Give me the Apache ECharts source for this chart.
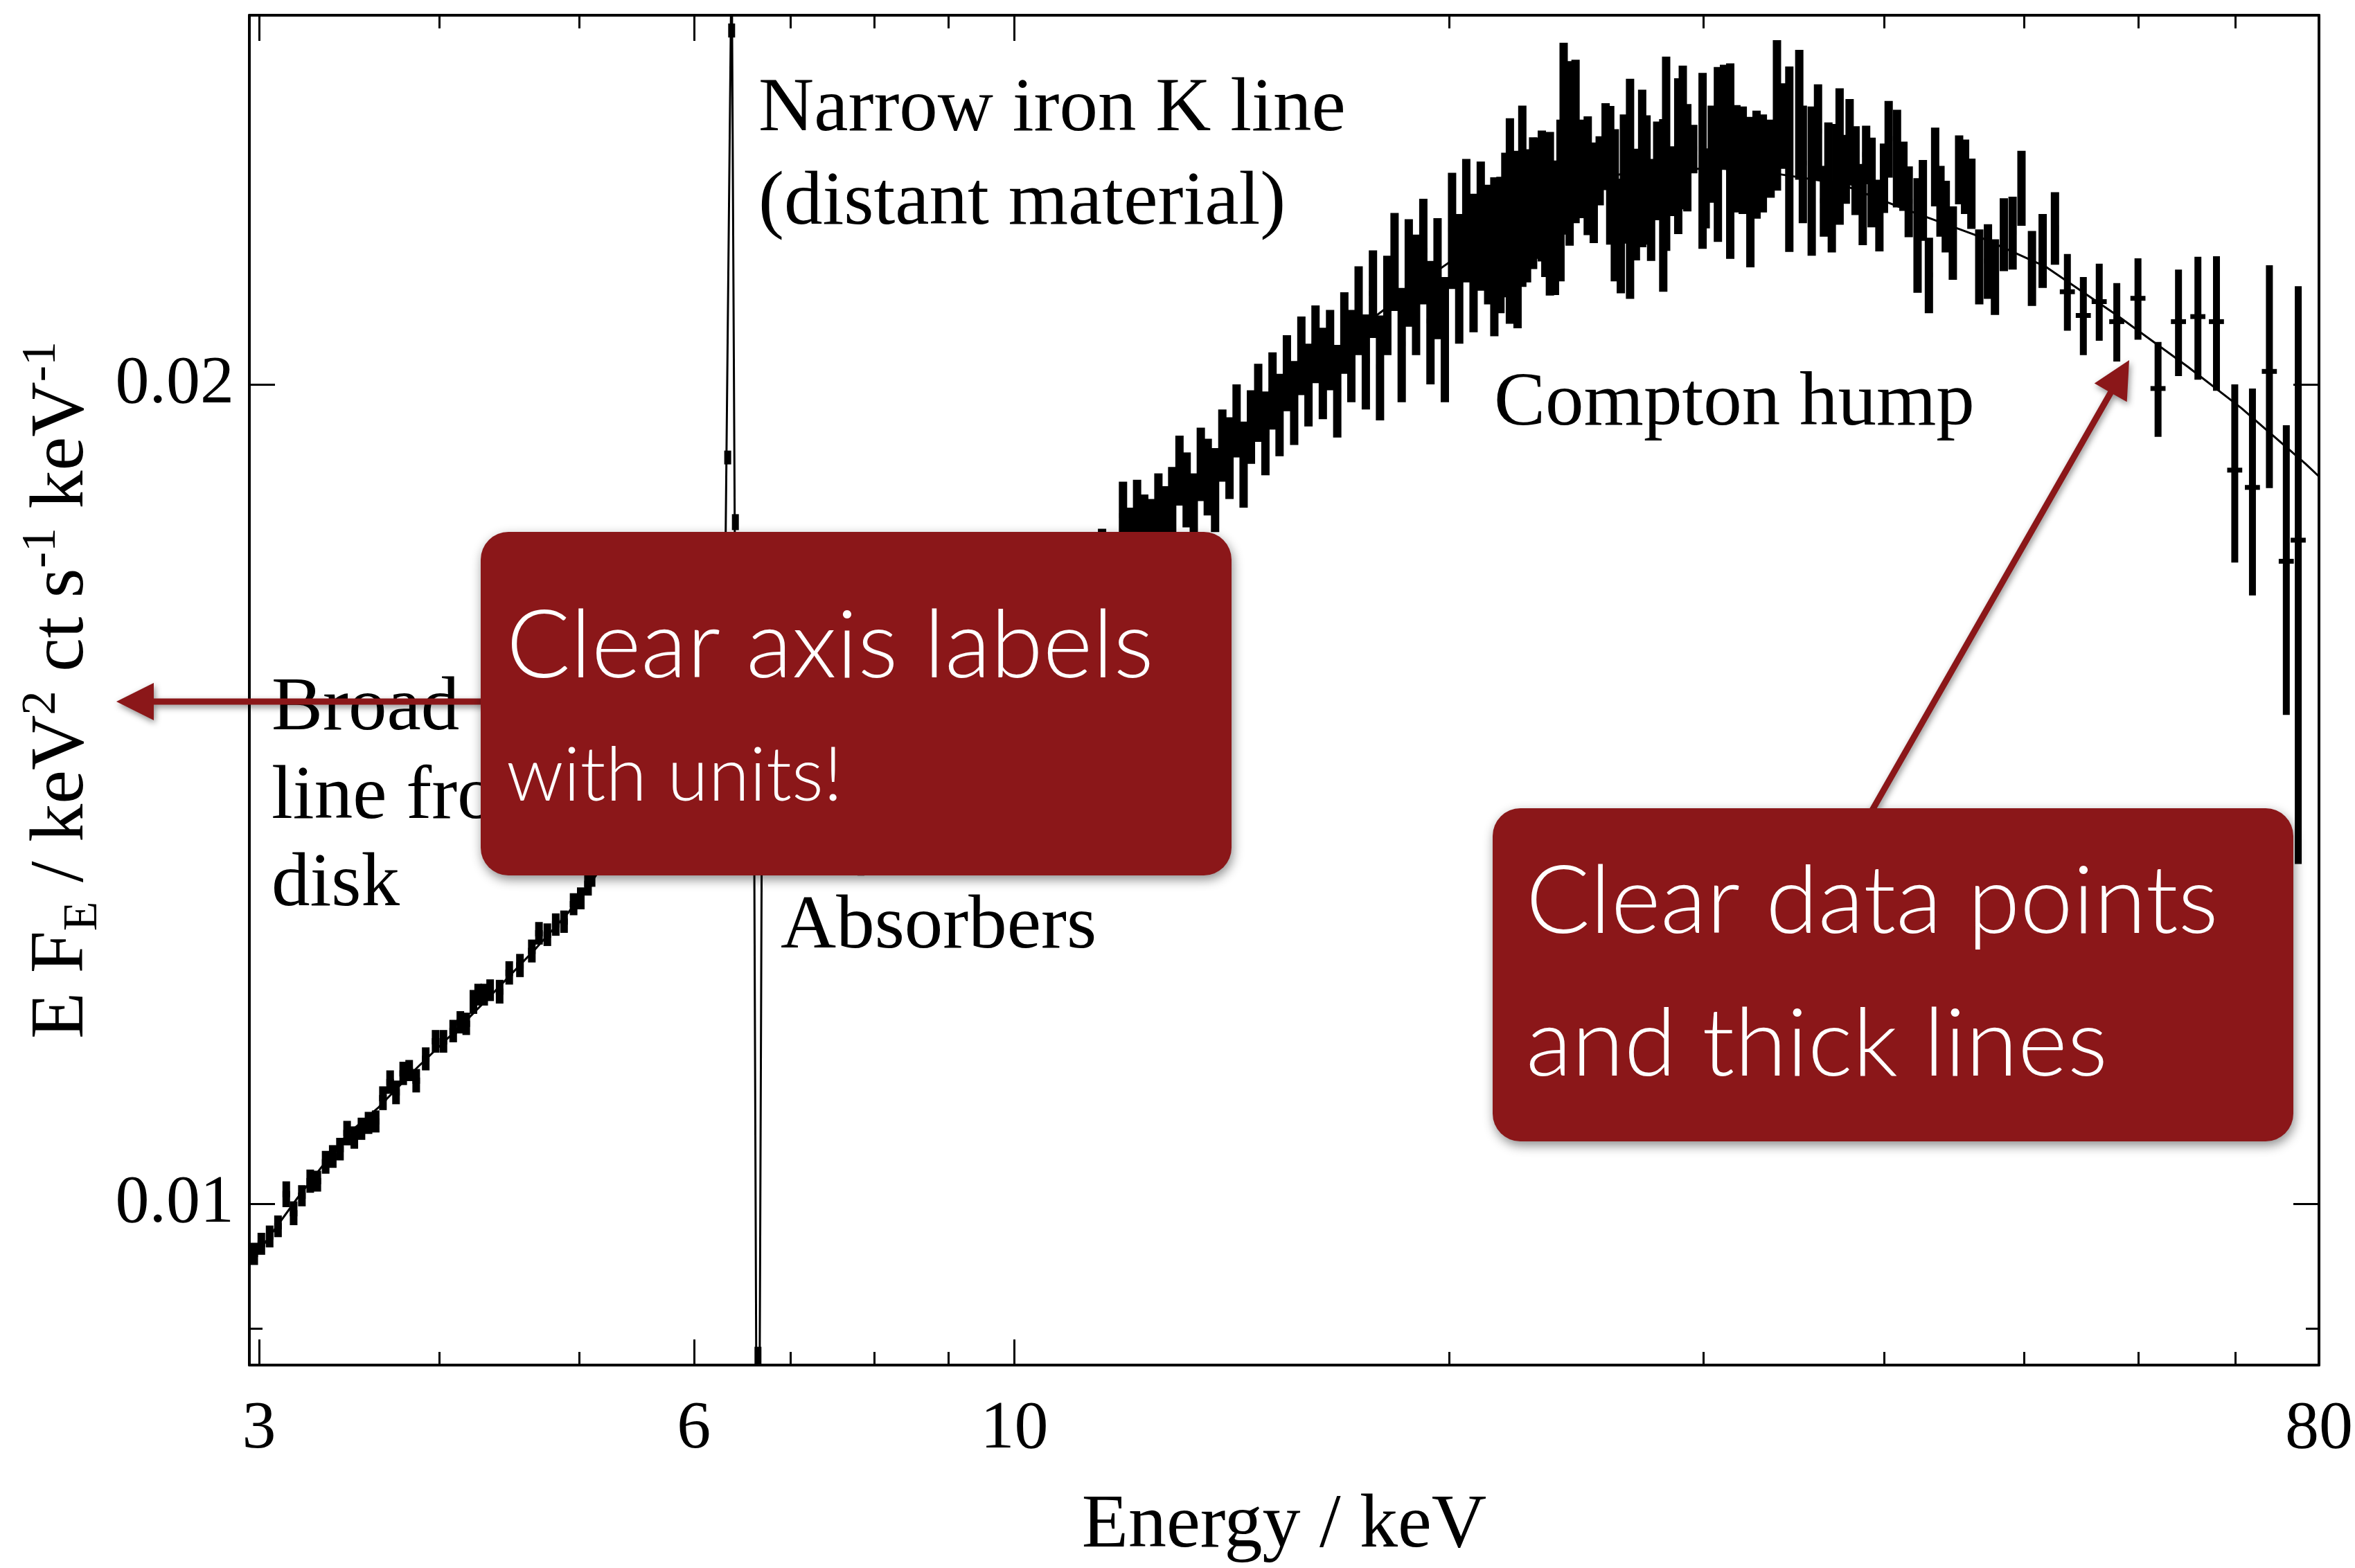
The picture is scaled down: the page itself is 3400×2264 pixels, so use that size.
<!DOCTYPE html>
<html>
<head>
<meta charset="utf-8">
<script src="https://cdn.jsdelivr.net/npm/echarts@6/dist/echarts.min.js"></script>
<style>
  html, body { margin: 0; padding: 0; background: #ffffff; }
  #chart { width: 3400px; height: 2264px; }
</style>
</head>
<body>
<div id="chart"></div>
<script>
// ---------------- axis ticks and labels ----------------
const xMajorTicks = [3, 6, 10];
const xMinorTicks = [4, 5, 7, 8, 9, 20, 30, 40, 50, 60, 70];
const xTickLabels = [3, 6, 10, 80];
const yMajorTicks = [0.01, 0.02];
const yMinorTicks = [0.009];
const yTickLabels = [0.01, 0.02];

// ---------------- spectrum: 3-5.1 keV ----------------
const energyLow = [2.977, 3.011, 3.051, 3.092, 3.133, 3.170, 3.212, 3.255, 3.292, 3.336,
  3.374, 3.413, 3.452, 3.492, 3.532, 3.572, 3.613, 3.655, 3.697, 3.732,
  3.775, 3.811, 3.854, 3.913, 3.975, 4.025, 4.088, 4.135, 4.174, 4.222,
  4.254, 4.295, 4.336, 4.402, 4.470, 4.547, 4.634, 4.687, 4.750, 4.814,
  4.878, 4.953, 5.010, 5.068, 5.097];
const fluxLow = [0.009585, 0.009667, 0.009727, 0.009811, 0.010081, 0.009920, 0.010068, 0.010193, 0.010193, 0.010357,
  0.010408, 0.010473, 0.010616, 0.010576, 0.010655, 0.010708, 0.010721, 0.010934, 0.011084, 0.010988,
  0.011166, 0.011193, 0.011097, 0.011304, 0.011473, 0.011473, 0.011573, 0.011659, 0.011644, 0.011862,
  0.011935, 0.011935, 0.011980, 0.011965, 0.012157, 0.012233, 0.012384, 0.012571, 0.012556, 0.012664,
  0.012695, 0.012884, 0.012948, 0.013108, 0.013205];
const errLow = [0.00009, 0.00009, 0.00009, 0.00009, 0.00011, 0.00010, 0.00009, 0.00010, 0.00009, 0.00010,
  0.00010, 0.00010, 0.00011, 0.00010, 0.00010, 0.00010, 0.00010, 0.00011, 0.00011, 0.00011,
  0.00011, 0.00010, 0.00011, 0.00011, 0.00011, 0.00011, 0.00011, 0.00011, 0.00011, 0.00012,
  0.00011, 0.00011, 0.00011, 0.00012, 0.00012, 0.00012, 0.00012, 0.00012, 0.00012, 0.00012,
  0.00012, 0.00012, 0.00012, 0.00013, 0.00013];

// ---------------- spectrum: iron K band ----------------
const energyIron = [6.332, 6.372, 6.410, 6.645, 7.830];
const fluxIron = [0.01880, 0.02698, 0.01780, 0.00870, 0.01370];
const errIron = [0.00011, 0.00016, 0.00012, 0.00016, 0.00050];

// ---------------- spectrum: Compton hump 11.5-53 keV ----------------
const energyHump = [11.50, 11.63, 11.76, 11.89, 12.02, 12.16, 12.30, 12.44, 12.58, 12.72,
  12.86, 13.01, 13.16, 13.31, 13.46, 13.61, 13.77, 13.93, 14.09, 14.25,
  14.41, 14.58, 14.75, 14.92, 15.09, 15.26, 15.44, 15.62, 15.80, 15.98,
  16.16, 16.35, 16.54, 16.73, 16.92, 17.11, 17.31, 17.51, 17.71, 17.91,
  18.12, 18.33, 18.54, 18.75, 18.97, 19.19, 19.41, 19.63, 19.86, 20.09,
  20.32, 20.55, 20.79, 21.03,
  21.28, 21.49, 21.70, 21.87, 22.03, 22.30, 22.47, 22.64, 22.86, 23.03,
  23.18, 23.31, 23.48, 23.67, 23.88, 24.00, 24.23, 24.46, 24.70, 24.94,
  25.18, 25.42, 25.66, 25.85, 26.04, 26.29, 26.42, 26.68, 26.93, 27.20,
  27.39, 27.59, 27.86, 28.13, 28.26, 28.54, 28.81, 29.02, 29.23, 29.51,
  29.95, 30.10, 30.39, 30.69, 30.99, 31.30, 31.61, 31.93, 32.32, 32.64,
  32.97, 33.38, 33.72, 34.05, 34.39,
  34.94, 35.14, 35.64, 36.00, 36.34, 36.60, 36.80, 37.06, 37.26, 37.63,
  37.86, 38.22, 38.66, 38.87, 39.21, 39.70, 39.99, 40.29, 40.83, 41.25,
  41.60, 42.19, 42.55, 42.96, 43.39, 43.76, 44.13, 44.63, 45.08, 45.51,
  45.97, 46.55, 47.20, 47.73, 48.41, 49.09, 49.79, 50.63, 51.50, 52.52];
const fluxHump = [0.0172, 0.0170, 0.0171, 0.0179, 0.0175, 0.0179, 0.0177, 0.0176, 0.0180, 0.0178,
  0.0180, 0.0186, 0.0183, 0.0179, 0.0187, 0.0185, 0.0183, 0.0190, 0.0188, 0.0194,
  0.0187, 0.0193, 0.0197, 0.0192, 0.0199, 0.0195, 0.0202, 0.0197, 0.0205, 0.0200,
  0.0207, 0.0202, 0.0206, 0.0199, 0.0209, 0.0205, 0.0213, 0.0204, 0.0216, 0.0203,
  0.0214, 0.0222, 0.0207, 0.0220, 0.0216, 0.0224, 0.0211, 0.0219, 0.0208, 0.0228,
  0.0219, 0.0230, 0.0222, 0.0229,
  0.02254, 0.02233, 0.02254, 0.02293, 0.02305, 0.02267, 0.02352, 0.02310, 0.02335, 0.02344,
  0.02349, 0.02330, 0.02316, 0.02287, 0.02342, 0.02470, 0.02439, 0.02462, 0.02402, 0.02389,
  0.02354, 0.02397, 0.02447, 0.02391, 0.02332, 0.02270, 0.02383, 0.02370, 0.02331, 0.02406,
  0.02381, 0.02320, 0.02398, 0.02333, 0.02439, 0.02376, 0.02431, 0.02469, 0.02425, 0.02441,
  0.02423, 0.02362, 0.02432, 0.02436, 0.02511, 0.02424, 0.02423, 0.02420, 0.02358, 0.02411,
  0.02413, 0.02422, 0.02516, 0.02490, 0.02427,
  0.02516, 0.02412, 0.02380, 0.02478, 0.02336, 0.02396, 0.02306, 0.02423, 0.02429, 0.02400,
  0.02456, 0.02398, 0.02330, 0.02429, 0.02374, 0.02308, 0.02382, 0.02462, 0.02423, 0.02386,
  0.02335, 0.02271, 0.02338, 0.02194, 0.02405, 0.02336, 0.02306, 0.02255, 0.02399, 0.02385,
  0.02351, 0.02210, 0.02220, 0.02191, 0.02271, 0.02274, 0.02362, 0.02207, 0.02240, 0.02283];
const errHump = [0.00050, 0.00050, 0.00052, 0.00052, 0.00052, 0.00055, 0.00052, 0.00055, 0.00055, 0.00055,
  0.00065, 0.00055, 0.00058, 0.00065, 0.00058, 0.00060, 0.00065, 0.00058, 0.00065, 0.00060,
  0.00068, 0.00060, 0.00065, 0.00068, 0.00065, 0.00068, 0.00065, 0.00070, 0.00068, 0.00070,
  0.00068, 0.00078, 0.00070, 0.00078, 0.00072, 0.00080, 0.00080, 0.00082, 0.00080, 0.00090,
  0.00090, 0.00092, 0.00100, 0.00100, 0.00110, 0.00100, 0.00110, 0.00112, 0.00110, 0.00112,
  0.00120, 0.00120, 0.00130, 0.00125,
  0.00114, 0.00150, 0.00130, 0.00140, 0.00200, 0.00170, 0.00180, 0.00130, 0.00130, 0.00120,
  0.00130, 0.00140, 0.00160, 0.00130, 0.00160, 0.00200, 0.00190, 0.00170, 0.00100, 0.00120,
  0.00100, 0.00070, 0.00090, 0.00140, 0.00150, 0.00110, 0.00130, 0.00220, 0.00110, 0.00160,
  0.00130, 0.00100, 0.00100, 0.00170, 0.00200, 0.00070, 0.00160, 0.00150, 0.00110, 0.00050,
  0.00180, 0.00080, 0.00100, 0.00180, 0.00110, 0.00200, 0.00110, 0.00110, 0.00150, 0.00110,
  0.00100, 0.00080, 0.00160, 0.00090, 0.00190,
  0.00138, 0.00120, 0.00150, 0.00100, 0.00070, 0.00100, 0.00070, 0.00070, 0.00140, 0.00070,
  0.00090, 0.00090, 0.00080, 0.00060, 0.00090, 0.00070, 0.00070, 0.00080, 0.00100, 0.00070,
  0.00070, 0.00110, 0.00080, 0.00070, 0.00080, 0.00070, 0.00070, 0.00070, 0.00070, 0.00075,
  0.00070, 0.00070, 0.00070, 0.00070, 0.00070, 0.00070, 0.00075, 0.00070, 0.00070, 0.00070];

// ---------------- spectrum: 53-78 keV ----------------
const energyHigh = [53.57, 54.95, 56.36, 57.96, 59.95, 61.90, 63.95, 65.96, 67.94, 69.95, 71.95, 73.92, 75.94, 77.40];
const fluxHigh = [0.02163, 0.02120, 0.02145, 0.02109, 0.02151, 0.01993, 0.02109, 0.02118, 0.02109, 0.01860, 0.01833, 0.02022, 0.01722, 0.01753];
const errHigh = [0.00070, 0.00070, 0.00070, 0.00070, 0.00074, 0.00080, 0.00095, 0.00110, 0.00120, 0.00140, 0.00160, 0.00190, 0.00210, 0.00420];

// ---------------- best-fit model ----------------
const modelEnergy = [2.954, 3.19, 3.45, 3.63, 3.86, 4.17, 4.33, 4.67, 4.91, 5.08,
  5.5, 6.0, 6.30, 6.372, 6.41, 6.60, 6.645, 6.69, 7.2, 7.8,
  8.6, 9.6, 10.6, 11.5, 12.2, 13.6, 14.8, 16.2, 17.6, 19.1,
  20.8, 22.6, 25.0, 28.0, 31.0, 33.7, 37.3, 41.3, 46.2, 51.7,
  58.0, 64.9, 70.7, 78.3, 80.0];
const modelFlux = [0.00950, 0.01005, 0.01060, 0.01085, 0.01122, 0.01167, 0.01191, 0.01242, 0.01279, 0.01310,
  0.0139, 0.0150, 0.0160, 0.0290, 0.0160, 0.0152, 0.0060, 0.0150, 0.0142, 0.0140,
  0.0146, 0.0156, 0.0165, 0.0173, 0.0178, 0.0186, 0.0194, 0.0203, 0.0211, 0.0218,
  0.0225, 0.0232, 0.0238, 0.0240, 0.0240, 0.0239, 0.0237, 0.0232, 0.0227, 0.0221,
  0.0212, 0.0203, 0.0196, 0.0187, 0.0185];

// ---------------- helpers ----------------
function zip3(e, f, d) { return e.map((v, i) => [v, f[i], d[i]]); }

// vertical error bar plus horizontal bin bar, clipped to the plot frame
function errorBars(binHalf, barWidth, binWidth) {
  return function (params, api) {
    const e = api.value(0), f = api.value(1), d = api.value(2);
    const cs = params.coordSys;
    const top = cs.y, bottom = cs.y + cs.height;
    const hi = api.coord([e, f + d]);
    const lo = api.coord([e, f - d]);
    const l = api.coord([e * (1 - binHalf), f]);
    const r = api.coord([e * (1 + binHalf), f]);
    const children = [];
    const y1 = Math.max(hi[1], top), y2 = Math.min(lo[1], bottom);
    if (y2 > y1) {
      children.push({ type: 'line', shape: { x1: hi[0], y1: y1, x2: hi[0], y2: y2 },
        style: { stroke: '#000', lineWidth: barWidth, lineCap: 'butt' } });
    }
    if (l[1] >= top && l[1] <= bottom) {
      children.push({ type: 'line', shape: { x1: l[0], y1: l[1], x2: r[0], y2: r[1] },
        style: { stroke: '#000', lineWidth: binWidth, lineCap: 'butt' } });
    }
    return { type: 'group', children: children };
  };
}

function arrowPoints(tail, tip, shaft, headLen, headHalf) {
  const dx = tip[0] - tail[0], dy = tip[1] - tail[1];
  const len = Math.hypot(dx, dy);
  const ux = dx / len, uy = dy / len, nx = -uy, ny = ux;
  const bx = tip[0] - ux * headLen, by = tip[1] - uy * headLen;
  const s = shaft / 2;
  return [
    [tail[0] + nx * s, tail[1] + ny * s], [bx + nx * s, by + ny * s],
    [bx + nx * headHalf, by + ny * headHalf], [tip[0], tip[1]],
    [bx - nx * headHalf, by - ny * headHalf], [bx - nx * s, by - ny * s],
    [tail[0] - nx * s, tail[1] - ny * s]
  ];
}

const serif = '"Liberation Serif", "Times New Roman", serif';
const calloutRed = '#8b1719';
const softShadow = { shadowBlur: 16, shadowColor: 'rgba(0,0,0,0.45)', shadowOffsetX: 2, shadowOffsetY: 6 };

function tickAxis(base, opts) {
  return Object.assign({
    type: 'log', logBase: 10,
    axisLine: { show: false, onZero: false },
    axisTick: { show: true, inside: true },
    axisLabel: { show: false },
    splitLine: { show: false },
    minorTick: { show: false },
    minorSplitLine: { show: false }
  }, base, opts);
}

const frameLine = { show: true, onZero: false, lineStyle: { color: '#000', width: 4 } };
const tickLine = { color: '#000', width: 3 };

const X = { min: 2.954, max: 80 };
const Y = { min: 0.008724, max: 0.02733 };

const option = {
  animation: false,
  backgroundColor: '#ffffff',
  grid: { left: 360, right: 44, top: 22, bottom: 292, containLabel: false },
  xAxis: [
    tickAxis(X, {
      position: 'bottom',
      axisLine: frameLine,
      axisTick: { show: true, inside: true, length: 37, lineStyle: tickLine, customValues: xMajorTicks },
      axisLabel: { show: true, customValues: xTickLabels, color: '#000', fontFamily: serif, fontSize: 98, margin: 44 },
      name: 'Energy / keV', nameLocation: 'middle', nameGap: 178,
      nameTextStyle: { color: '#000', fontFamily: serif, fontSize: 110 }
    }),
    tickAxis(X, { position: 'bottom',
      axisTick: { show: true, inside: true, length: 19, lineStyle: tickLine, customValues: xMinorTicks } }),
    tickAxis(X, { position: 'top', axisLine: frameLine,
      axisTick: { show: true, inside: true, length: 37, lineStyle: tickLine, customValues: xMajorTicks } }),
    tickAxis(X, { position: 'top',
      axisTick: { show: true, inside: true, length: 19, lineStyle: tickLine, customValues: xMinorTicks } })
  ],
  yAxis: [
    tickAxis(Y, {
      position: 'left',
      axisLine: frameLine,
      axisTick: { show: true, inside: true, length: 37, lineStyle: tickLine, customValues: yMajorTicks },
      axisLabel: { show: true, customValues: yTickLabels, color: '#000', fontFamily: serif, fontSize: 98, margin: 22 },
      name: '{b|E F}{s|E}{b| / keV}{p|2}{b| ct s}{p|-1}{b| keV}{p|-1}',
      nameLocation: 'middle', nameGap: 200,
      nameTextStyle: {
        color: '#000', fontFamily: serif, fontSize: 110,
        rich: {
          b: { fontFamily: serif, fontSize: 110, lineHeight: 130, color: '#000' },
          p: { fontFamily: serif, fontSize: 70, lineHeight: 72, verticalAlign: 'top', color: '#000' },
          s: { fontFamily: serif, fontSize: 70, lineHeight: 72, verticalAlign: 'bottom', color: '#000' }
        }
      }
    }),
    tickAxis(Y, { position: 'left',
      axisTick: { show: true, inside: true, length: 19, lineStyle: tickLine, customValues: yMinorTicks } }),
    tickAxis(Y, { position: 'right', axisLine: frameLine,
      axisTick: { show: true, inside: true, length: 37, lineStyle: tickLine, customValues: yMajorTicks } }),
    tickAxis(Y, { position: 'right',
      axisTick: { show: true, inside: true, length: 19, lineStyle: tickLine, customValues: yMinorTicks } })
  ],
  series: [
    {
      name: 'model', type: 'line', xAxisIndex: 0, yAxisIndex: 0,
      data: modelEnergy.map((e, i) => [e, modelFlux[i]]),
      symbol: 'none', showSymbol: false, clip: true, z: 3,
      lineStyle: { color: '#000', width: 3 }
    },
    { name: 'data 3-5 keV', type: 'custom', xAxisIndex: 0, yAxisIndex: 0, z: 4,
      data: zip3(energyLow, fluxLow, errLow), encode: { x: 0, y: 1 }, renderItem: errorBars(0.006, 11, 9) },
    { name: 'data iron K', type: 'custom', xAxisIndex: 0, yAxisIndex: 0, z: 4,
      data: zip3(energyIron, fluxIron, errIron), encode: { x: 0, y: 1 }, renderItem: errorBars(0.0025, 10, 5) },
    { name: 'data hump', type: 'custom', xAxisIndex: 0, yAxisIndex: 0, z: 4,
      data: zip3(energyHump, fluxHump, errHump), encode: { x: 0, y: 1 }, renderItem: errorBars(0.006, 12, 7) },
    { name: 'data high', type: 'custom', xAxisIndex: 0, yAxisIndex: 0, z: 4,
      data: zip3(energyHigh, fluxHigh, errHigh), encode: { x: 0, y: 1 }, renderItem: errorBars(0.012, 10, 7) }
  ],
  graphic: [
    // feature annotations
    { type: 'text', x: 1095, y: 159, z: 50, style: { text: 'Narrow iron K line', fill: '#000', font: '111px ' + serif, align: 'left', verticalAlign: 'middle' } },
    { type: 'text', x: 1095, y: 294, z: 50, style: { text: '(distant material)', fill: '#000', font: '111px ' + serif, align: 'left', verticalAlign: 'middle' } },
    { type: 'text', x: 2157, y: 584, z: 50, style: { text: 'Compton hump', fill: '#000', font: '111px ' + serif, align: 'left', verticalAlign: 'middle' } },
    { type: 'text', x: 392, y: 1024, z: 50, style: { text: 'Broad', fill: '#000', font: '111px ' + serif, align: 'left', verticalAlign: 'middle' } },
    { type: 'text', x: 392, y: 1152, z: 50, style: { text: 'line from', fill: '#000', font: '111px ' + serif, align: 'left', verticalAlign: 'middle' } },
    { type: 'text', x: 392, y: 1278, z: 50, style: { text: 'disk', fill: '#000', font: '111px ' + serif, align: 'left', verticalAlign: 'middle' } },
    { type: 'text', x: 1127, y: 1339, z: 50, style: { text: 'Absorbers', fill: '#000', font: '111px ' + serif, align: 'left', verticalAlign: 'middle' } },

    // callout arrows
    { type: 'polygon', z: 90, shape: { points: arrowPoints([700, 1013], [168, 1013], 9, 54, 27) },
      style: Object.assign({ fill: calloutRed }, softShadow, { shadowBlur: 10, shadowOffsetY: 4 }) },
    { type: 'polygon', z: 90, shape: { points: arrowPoints([2700, 1175], [3074, 520], 9, 54, 27) },
      style: Object.assign({ fill: calloutRed }, softShadow, { shadowBlur: 10, shadowOffsetY: 4 }) },

    // callout boxes
    { type: 'rect', z: 100, shape: { x: 694, y: 768, width: 1084, height: 496, r: 40 },
      style: Object.assign({ fill: calloutRed }, softShadow) },
    { type: 'text', x: 731, y: 934, z: 101, style: { text: 'Clear axis labels', fill: '#fff', font: '300 137px Lato, "Open Sans", sans-serif', align: 'left', verticalAlign: 'middle' } },
    { type: 'text', x: 731, y: 1121, z: 101, style: { text: 'with units!', fill: '#fff', font: '300 108px Lato, "Open Sans", sans-serif', align: 'left', verticalAlign: 'middle' } },

    { type: 'rect', z: 100, shape: { x: 2155, y: 1167, width: 1156, height: 481, r: 40 },
      style: Object.assign({ fill: calloutRed }, softShadow) },
    { type: 'text', x: 2203, y: 1303, z: 101, style: { text: 'Clear data points', fill: '#fff', font: '300 137px Lato, "Open Sans", sans-serif', align: 'left', verticalAlign: 'middle' } },
    { type: 'text', x: 2203, y: 1509, z: 101, style: { text: 'and thick lines', fill: '#fff', font: '300 137px Lato, "Open Sans", sans-serif', align: 'left', verticalAlign: 'middle' } }
  ]
};

const chart = echarts.init(document.getElementById('chart'), null, { renderer: 'canvas', width: 3400, height: 2264 });
chart.setOption(option);
</script>
</body>
</html>
